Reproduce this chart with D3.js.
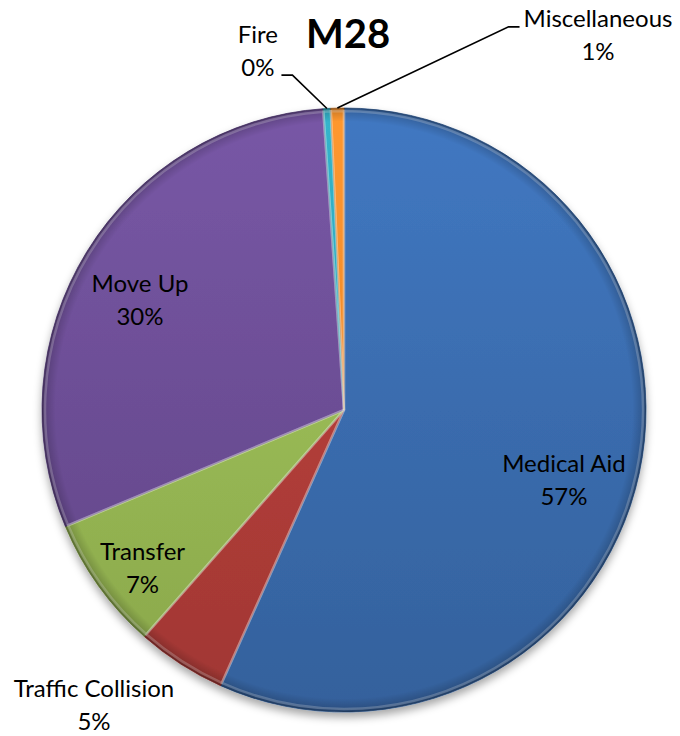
<!DOCTYPE html>
<html>
<head>
<meta charset="utf-8">
<script src="https://cdn.jsdelivr.net/npm/d3@7"></script>
<style>
  html, body { margin: 0; padding: 0; background: #ffffff; }
  svg { display: block; }
  text { font-family: Lato, "Open Sans", sans-serif; fill: #000; }
</style>
</head>
<body>
<svg id="chart" width="680" height="736"></svg>
<script>
// ---- data ----
const categories = ["Medical Aid", "Traffic Collision", "Transfer", "Move Up", "Fire", "Miscellaneous"];
const values = [56.7, 4.8, 7.2, 30.2, 0.4, 0.7];
const percentLabels = ["57%", "5%", "7%", "30%", "0%", "1%"];
const sliceColors = ["#3a6cae", "#b23d39", "#98b954", "#6c4e95", "#2fa3b7", "#f0892a"];
const title = "M28";

// ---- layout ----
const W = 680, H = 736;
const cx = 344, cy = 410, R = 302;
// label placement: polar angle (deg, clockwise from 12 o'clock) and radius fraction
const labelPolar = [[107.6, 0.764], [220.3, 1.28], [231.9, 0.848], [298.4, 0.768], [346.5, 1.222], [34.1, 1.50]];
const leaderSide = [null, null, null, null, "right", "left"];
const fontSize = 24;

const svg = d3.select("#chart");
const defs = svg.append("defs");

const shadow = defs.append("filter").attr("id", "shadow")
  .attr("x", "-10%").attr("y", "-10%").attr("width", "120%").attr("height", "125%");
shadow.append("feDropShadow").attr("dx", 0).attr("dy", 5).attr("stdDeviation", 4)
  .attr("flood-color", "#000").attr("flood-opacity", 0.35);

sliceColors.forEach((c, i) => {
  const gr = defs.append("linearGradient").attr("id", "grad" + i)
    .attr("gradientUnits", "userSpaceOnUse")
    .attr("x1", 0).attr("y1", -R).attr("x2", 0).attr("y2", R);
  gr.append("stop").attr("offset", "0%").attr("stop-color", d3.color(c).brighter(0.3));
  gr.append("stop").attr("offset", "50%").attr("stop-color", c);
  gr.append("stop").attr("offset", "100%").attr("stop-color", d3.color(c).darker(0.3));
});

const rim = defs.append("radialGradient").attr("id", "rim")
  .attr("gradientUnits", "userSpaceOnUse").attr("cx", 0).attr("cy", 0).attr("r", R);
rim.append("stop").attr("offset", "0.955").attr("stop-color", "#000").attr("stop-opacity", 0);
rim.append("stop").attr("offset", "0.985").attr("stop-color", "#000").attr("stop-opacity", 0.15);
rim.append("stop").attr("offset", "1").attr("stop-color", "#000").attr("stop-opacity", 0.38);

const pie = d3.pie().sort(null).value(d => d).startAngle(0).endAngle(2 * Math.PI);
const arcs = pie(values);
const arc = d3.arc().innerRadius(0).outerRadius(R);

const g = svg.append("g").attr("transform", `translate(${cx},${cy})`);

const pieG = g.append("g").attr("filter", "url(#shadow)");
pieG.selectAll("path.slice").data(arcs).join("path")
  .attr("class", "slice")
  .attr("d", arc)
  .attr("fill", (d, i) => `url(#grad${i})`)
  .attr("stroke", (d, i) => d3.color(sliceColors[i]).darker(0.6))
  .attr("stroke-width", 0.8)
  .attr("stroke-linejoin", "round");

// bevel highlights / rim shading
g.selectAll("path.rim").data(arcs).join("path")
  .attr("class", "rim")
  .attr("d", arc)
  .attr("fill", "url(#rim)");
g.selectAll("path.hl").data(arcs).join("path")
  .attr("class", "hl")
  .attr("d", d3.arc().innerRadius(0).outerRadius(R - 3))
  .attr("fill", "none")
  .attr("stroke", "#ffffff")
  .attr("stroke-opacity", 0.22)
  .attr("stroke-width", 2.5);

// ---- labels ----
const toXY = (deg, rad) => {
  const a = deg * Math.PI / 180;
  return [rad * Math.sin(a), -rad * Math.cos(a)];
};

arcs.forEach((d, i) => {
  const [lx, ly] = toXY(labelPolar[i][0], labelPolar[i][1] * R);
  const t = g.append("text")
    .attr("text-anchor", "middle")
    .style("font-size", fontSize + "px");
  t.append("tspan").attr("x", lx).attr("y", ly - 8).text(categories[i]);
  t.append("tspan").attr("x", lx).attr("y", ly + 25).text(percentLabels[i]);

  if (leaderSide[i]) {
    const mid = (d.startAngle + d.endAngle) / 2;
    const px = R * Math.sin(mid), py = -R * Math.cos(mid);
    let ex, ey, hx;
    if (leaderSide[i] === "right") {
      const w2 = t.select("tspan:last-child").node().getComputedTextLength() / 2;
      hx = lx + w2 + 7; ex = hx + 11; ey = ly + 24;
    } else {
      const w1 = t.select("tspan:first-child").node().getComputedTextLength() / 2;
      hx = lx - w1 - 4; ex = hx - 11; ey = ly - 8;
    }
    g.append("path")
      .attr("d", `M${px},${py}L${ex},${ey}L${hx},${ey}`)
      .attr("fill", "none").attr("stroke", "#000").attr("stroke-width", 1.6);
  }
});

// ---- title ----
svg.append("text")
  .attr("x", 348).attr("y", 48)
  .attr("text-anchor", "middle")
  .style("font-size", "40px").style("font-weight", "bold")
  .text(title);
</script>
</body>
</html>
